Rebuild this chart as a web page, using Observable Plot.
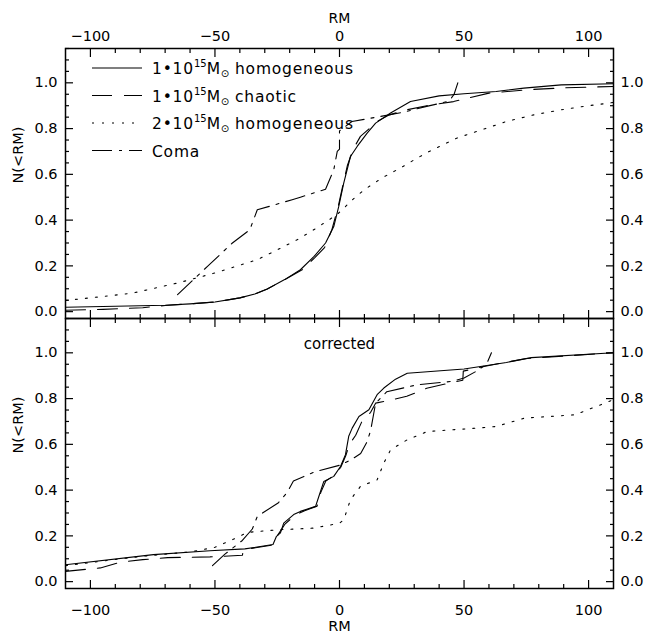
<!DOCTYPE html>
<html><head><meta charset="utf-8">
<script src="https://cdn.jsdelivr.net/npm/d3@7"></script>
<script src="https://cdn.jsdelivr.net/npm/@observablehq/plot@0.6"></script>
<style>
body{margin:0;background:#fff;}
#chart{position:relative;width:649px;height:636px;background:#fff;}
#chart svg{position:absolute;left:0;overflow:visible;}
</style></head><body><div id="chart"></div>
<script>
// ---------- data ----------
const seriesLabels = ["homogeneous", "chaotic", "homogeneous", "Coma"];
const seriesMass = ["1", "1", "2", null];
const xMajorTicks = [-100, -50, 0, 50, 100];
const xMinorTicks = [-90, -80, -70, -60, -40, -30, -20, -10, 10, 20, 30, 40, 60, 70, 80, 90];
const yMajorTicks = [0, 0.2, 0.4, 0.6, 0.8, 1.0];
const yMinorTicks = [0.05, 0.1, 0.15, 0.25, 0.3, 0.35, 0.45, 0.5, 0.55, 0.65, 0.7, 0.75, 0.85, 0.9, 0.95, 1.05, 1.1, 1.15];

// top panel (uncorrected)
const topHom1 = [[-110,0.019],[-70,0.028],[-60,0.034],[-50,0.042],[-40,0.06],[-34,0.077],[-29,0.099],[-22,0.14],[-15.7,0.183],[-10.3,0.24],[-5.6,0.30],[-2.3,0.372],[-0.3,0.46],[1.7,0.562],[4.4,0.678],[7.1,0.722],[11.1,0.78],[14.5,0.824],[20.5,0.868],[28.5,0.918],[40,0.943],[50,0.952],[62.9,0.962],[74,0.977],[89,0.991],[110,0.996]];
const topChaotic = [[-110,0.006],[-95,0.01],[-79,0.017],[-70,0.027],[-60,0.034],[-50,0.042],[-40,0.06],[-34,0.077],[-29,0.099],[-22,0.14],[-15,0.183],[-10,0.235],[-6,0.28],[-3,0.36],[-0.5,0.46],[1.3,0.55],[3.2,0.64],[5.5,0.71],[8.4,0.766],[12,0.80],[15,0.83],[20,0.86],[27,0.882],[35,0.9],[45.8,0.918],[60,0.955],[76,0.97],[90,0.978],[110,0.984]];
const topHom2 = [[-110,0.049],[-95,0.066],[-83,0.081],[-65,0.125],[-50,0.169],[-33,0.227],[-25,0.27],[-17,0.314],[-10,0.36],[-3,0.41],[-1,0.424],[6,0.497],[10,0.533],[17,0.584],[24.5,0.628],[31,0.67],[36,0.70],[47,0.758],[61,0.809],[67,0.831],[78,0.86],[89,0.882],[100,0.9],[110,0.914]];
const topComa = [[-65,0.074],[-53,0.198],[-43,0.30],[-36,0.358],[-33,0.445],[-19,0.489],[-15.7,0.50],[-5.6,0.535],[-2.3,0.62],[-0.9,0.70],[0,0.71],[0,0.79],[5,0.831],[16.5,0.853],[25,0.87],[35,0.897],[44,0.92],[46,0.95],[47.5,1.0]];

// bottom panel (corrected)
const botHom1 = [[-110,0.074],[-74.7,0.118],[-52,0.135],[-38,0.143],[-26.7,0.162],[-25.3,0.198],[-23.7,0.213],[-22.4,0.256],[-18.4,0.293],[-15.7,0.307],[-9.6,0.329],[-8.3,0.372],[-6.3,0.438],[-2.3,0.46],[0.4,0.503],[2.4,0.555],[3.7,0.635],[5.1,0.671],[7.8,0.722],[11.8,0.751],[15.1,0.817],[17.8,0.846],[22.5,0.885],[27.2,0.911],[50,0.929],[56.6,0.94],[67,0.958],[77,0.979],[110,1.0]];
const botChaotic = [[-110,0.045],[-96,0.06],[-88,0.085],[-79,0.096],[-69,0.105],[-52,0.108],[-39,0.115],[-38.5,0.14],[-27,0.16],[-25,0.2],[-22,0.25],[-18,0.29],[-14,0.31],[-9,0.33],[-7.5,0.39],[-5.5,0.44],[-2,0.465],[0.5,0.5],[2.5,0.55],[4,0.6],[6.5,0.64],[9,0.7],[12.5,0.74],[14.5,0.78],[21,0.795],[27,0.81],[35,0.845],[45,0.87],[49.5,0.88],[49.7,0.92],[58,0.94],[65,0.955],[75,0.975],[110,1.0]];
const botHom2 = [[-110,0.07],[-80,0.11],[-60,0.13],[-50,0.15],[-43,0.183],[-37,0.215],[-30,0.222],[-23.7,0.227],[-10.4,0.234],[0,0.255],[1.7,0.27],[4.4,0.358],[8.4,0.416],[15.1,0.445],[17.8,0.518],[20.5,0.576],[27.2,0.62],[35.2,0.656],[55.3,0.671],[62.9,0.678],[74.4,0.715],[94.5,0.729],[110,0.795]];
const botComa = [[-51,0.07],[-46,0.12],[-39,0.18],[-35,0.23],[-33,0.285],[-24.5,0.345],[-21,0.39],[-18.5,0.44],[-10,0.48],[0.5,0.51],[5,0.535],[8.5,0.56],[11,0.61],[12.5,0.66],[14.5,0.78],[19,0.83],[31,0.86],[45,0.875],[50,0.89],[55,0.92],[59,0.95],[61,1.0]];

// ---------- styles ----------
const dashes = [null, "20,12", "2,8", "20,7,3,7"];
const FONT = "DejaVu Sans";

function panel(series, isTop) {
  const fmt = d => d < 0 ? "\u2212" + Math.abs(d) : String(d);
  const yfmt = d => d.toFixed(1);
  const marks = [];
  series.forEach((s, i) => marks.push(Plot.line(s, {x: d => d[0], y: d => d[1], stroke: "black", strokeWidth: 1.1, strokeDasharray: dashes[i]})));
  marks.push(Plot.frame({stroke: "black", strokeWidth: 1.5}));
  for (const anchor of ["top", "bottom"]) {
    marks.push(Plot.axisX(xMajorTicks, {anchor, tickSize: -8, tickFormat: () => "", label: null, strokeWidth: 1.2}));
    marks.push(Plot.axisX(xMinorTicks, {anchor, tickSize: -4, tickFormat: () => "", label: null, strokeWidth: 1.2}));
  }
  for (const anchor of ["left", "right"]) {
    marks.push(Plot.axisY(yMajorTicks, {anchor, tickSize: -8, tickFormat: () => "", label: null, strokeWidth: 1.2}));
    marks.push(Plot.axisY(yMinorTicks, {anchor, tickSize: -4, tickFormat: () => "", label: null, strokeWidth: 1.2}));
    marks.push(Plot.axisY(yMajorTicks, {anchor, tickSize: 0, tickPadding: anchor === "left" ? 8 : 7, tickFormat: yfmt, label: null, fontSize: 14.5}));
  }
  if (isTop) {
    marks.push(Plot.axisX(xMajorTicks, {anchor: "top", tickSize: 0, tickPadding: 8, tickFormat: fmt, label: null, fontSize: 14.5}));
    marks.push(Plot.text(["RM"], {frameAnchor: "top", dy: -35, fontSize: 14}));
  } else {
    marks.push(Plot.axisX(xMajorTicks, {anchor: "bottom", tickSize: 0, tickPadding: 16, tickFormat: fmt, label: null, fontSize: 14.5}));
    marks.push(Plot.text(["RM"], {frameAnchor: "bottom", dy: 42, fontSize: 14.5}));
    marks.push(Plot.text(["corrected"], {frameAnchor: "top", dy: 20, fontSize: 15}));
  }
  marks.push(Plot.text(["N(<RM)"], {frameAnchor: "left", dx: -47, rotate: -90, fontSize: 14.5}));
  return Plot.plot({
    width: 649, height: 318,
    marginTop: isTop ? 48 : 0, marginBottom: isTop ? 0 : 48,
    marginLeft: 65, marginRight: 36,
    x: {domain: [-110, 110]},
    y: {domain: [-0.03, 1.15]},
    style: {fontFamily: FONT, fontSize: "15px", color: "black", background: "transparent", overflow: "visible"},
    marks
  });
}

const chartEl = document.getElementById("chart");
const topPanel = panel([topHom1, topChaotic, topHom2, topComa], true);
topPanel.style.top = "0px";
const botPanel = panel([botHom1, botChaotic, botHom2, botComa], false);
botPanel.style.top = "318px";
chartEl.appendChild(botPanel);
chartEl.appendChild(topPanel);

// ---------- legend ----------
const leg = d3.select(chartEl).append("svg")
  .attr("width", 649).attr("height", 636)
  .style("top", "0px").style("pointer-events", "none")
  .attr("font-family", FONT).attr("font-size", 15.5);
seriesLabels.forEach((lab, i) => {
  const y = 68 + i * 27.5;
  leg.append("line").attr("x1", 92).attr("x2", 142).attr("y1", y).attr("y2", y)
    .attr("stroke", "black").attr("stroke-width", 1.1)
    .attr("stroke-dasharray", dashes[i]);
  const t = leg.append("text").attr("x", 152).attr("y", y + 6).attr("letter-spacing", 0.8);
  if (seriesMass[i]) {
    t.append("tspan").text(seriesMass[i] + "\u202210");
    t.append("tspan").attr("font-size", 10).attr("dy", -7).attr("letter-spacing", 0).text("15");
    t.append("tspan").attr("dy", 7).text("M");
    t.append("tspan").attr("font-size", 10).attr("dy", 3).attr("letter-spacing", 0).text("\u2299");
    t.append("tspan").attr("dy", -3).text(" " + lab);
  } else {
    t.text(lab);
  }
});
</script></body></html>
